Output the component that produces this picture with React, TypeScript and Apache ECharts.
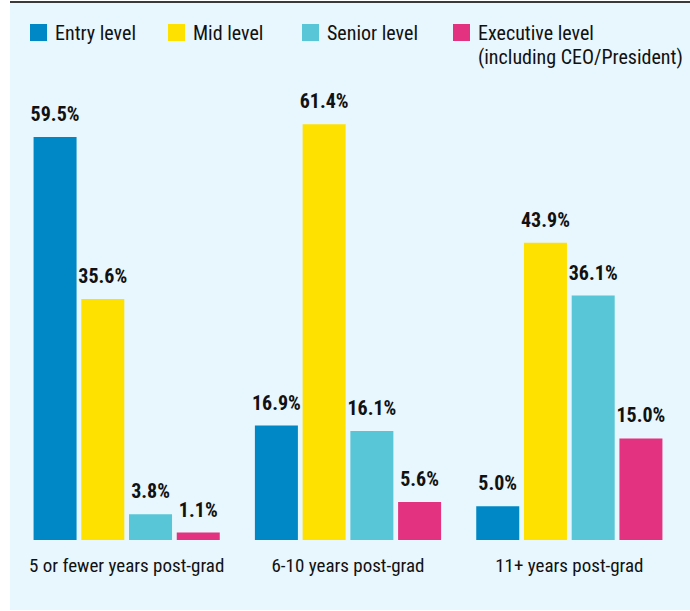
import React, { useEffect, useRef } from "react";
import * as echarts from "echarts";

const categories = ["5 or fewer years post-grad", "6-10 years post-grad", "11+ years post-grad"];
const seriesNames = ["Entry level", "Mid level", "Senior level", "Executive level"];
const legendLabels = ["Entry level", "Mid level", "Senior level", "Executive level\n(including CEO/President)"];
const entryLevel = [59.5, 16.9, 5.0];
const midLevel = [35.6, 61.4, 43.9];
const seniorLevel = [3.8, 16.1, 36.1];
const executiveLevel = [1.1, 5.6, 15.0];
const colors = ["#0088c6", "#ffe100", "#58c6d6", "#e33380"];
const legendX = [30, 168, 302, 453];

const FONT = "'Roboto Condensed', Roboto, sans-serif";

export default function App() {
  const ref = useRef<HTMLDivElement>(null);
  useEffect(() => {
    document.body.style.margin = "0";
    const chart = echarts.init(ref.current!, null, { renderer: "svg" });
    const values = [entryLevel, midLevel, seniorLevel, executiveLevel];
    const graphics: any[] = [
      { type: "rect", z: -10, shape: { x: 10, y: 3, width: 680, height: 607 }, style: { fill: "#e8f6fd" }, silent: true },
      { type: "line", z: 10, shape: { x1: 10, y1: 2, x2: 690, y2: 2 }, style: { stroke: "#3a3a3a", lineWidth: 2 }, silent: true },
    ];
    legendLabels.forEach((lab, i) => {
      graphics.push({ type: "rect", shape: { x: legendX[i], y: 24, width: 17, height: 17 }, style: { fill: colors[i] } });
      graphics.push({
        type: "text",
        x: legendX[i] + 25,
        y: 21,
        style: { text: lab, fill: "#111", font: `20px ${FONT}`, lineHeight: 24, verticalAlign: "top" },
      });
    });
    chart.setOption({
      animation: false,
      backgroundColor: "#ffffff",
      grid: { left: 16, right: 10, top: 66, bottom: 71, containLabel: false },
      xAxis: {
        type: "category",
        data: categories,
        axisLine: { show: false },
        axisTick: { show: false },
        axisLabel: { color: "#111", fontFamily: FONT, fontSize: 19, margin: 16, interval: 0 },
      },
      yAxis: { type: "value", min: 0, max: 70, show: false, splitLine: { show: false } },
      graphic: graphics,
      series: seriesNames.map((n, i) => ({
        name: n,
        type: "bar",
        data: values[i],
        barWidth: 43,
        barGap: "11%",
        itemStyle: { color: colors[i] },
        label: {
          show: true,
          position: "top",
          distance: 13,
          formatter: (p: any) => p.value.toFixed(1) + "%",
          color: "#111",
          fontFamily: FONT,
          fontWeight: "bold",
          fontSize: 20,
        },
      })),
    });
    return () => chart.dispose();
  }, []);
  return <div ref={ref} style={{ width: 690, height: 611 }} />;
}
